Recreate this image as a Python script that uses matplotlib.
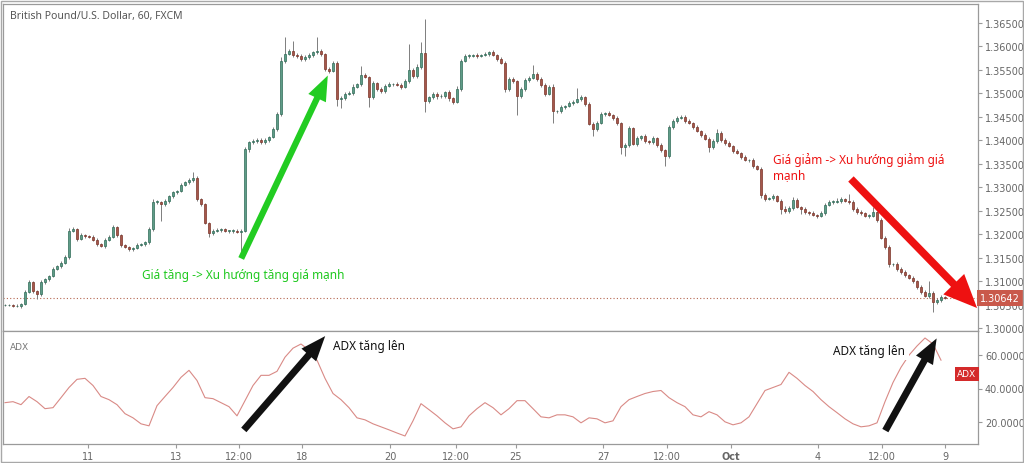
import numpy as np
import matplotlib.pyplot as plt
from matplotlib.patches import FancyArrowPatch, Rectangle

# hourly GBP/USD closes (sampled), wick extensions in pips
close = [1.3049, 1.3049, 1.3047, 1.3047, 1.3051, 1.3077, 1.3098, 1.3079, 1.3072, 1.3098,
         1.3104, 1.3111, 1.3126, 1.3132, 1.3139, 1.3151, 1.3207, 1.3211, 1.3190, 1.3198,
         1.3196, 1.3194, 1.3188, 1.3179, 1.3175, 1.3188, 1.3194, 1.3215, 1.3198, 1.3177,
         1.3173, 1.3168, 1.3170, 1.3177, 1.3179, 1.3183, 1.3211, 1.3269, 1.3269, 1.3264,
         1.3271, 1.3281, 1.3290, 1.3292, 1.3305, 1.3311, 1.3315, 1.3320, 1.3275, 1.3264,
         1.3224, 1.3202, 1.3207, 1.3209, 1.3211, 1.3207, 1.3207, 1.3207, 1.3205, 1.3207,
         1.3381, 1.3396, 1.3398, 1.3401, 1.3396, 1.3401, 1.3407, 1.3424, 1.3456, 1.3569,
         1.3584, 1.3590, 1.3582, 1.3580, 1.3573, 1.3577, 1.3582, 1.3588, 1.3590, 1.3584,
         1.3552, 1.3548, 1.3565, 1.3488, 1.3490, 1.3499, 1.3501, 1.3514, 1.3520, 1.3539,
         1.3535, 1.3492, 1.3522, 1.3509, 1.3505, 1.3516, 1.3520, 1.3520, 1.3518, 1.3514,
         1.3526, 1.3550, 1.3537, 1.3556, 1.3586, 1.3484, 1.3492, 1.3499, 1.3494, 1.3494,
         1.3503, 1.3490, 1.3482, 1.3509, 1.3569, 1.3580, 1.3580, 1.3582, 1.3580, 1.3582,
         1.3584, 1.3588, 1.3582, 1.3573, 1.3565, 1.3509, 1.3531, 1.3526, 1.3494, 1.3509,
         1.3528, 1.3533, 1.3541, 1.3531, 1.3518, 1.3499, 1.3514, 1.3462, 1.3462, 1.3471,
         1.3473, 1.3479, 1.3482, 1.3488, 1.3492, 1.3477, 1.3435, 1.3424, 1.3437, 1.3456,
         1.3458, 1.3454, 1.3448, 1.3437, 1.3386, 1.3390, 1.3426, 1.3392, 1.3405, 1.3409,
         1.3398, 1.3396, 1.3405, 1.3390, 1.3379, 1.3367, 1.3428, 1.3441, 1.3448, 1.3450,
         1.3441, 1.3437, 1.3428, 1.3420, 1.3411, 1.3403, 1.3386, 1.3398, 1.3416, 1.3401,
         1.3394, 1.3388, 1.3377, 1.3373, 1.3364, 1.3358, 1.3358, 1.3345, 1.3339, 1.3283,
         1.3275, 1.3277, 1.3281, 1.3271, 1.3254, 1.3249, 1.3256, 1.3273, 1.3258, 1.3254,
         1.3247, 1.3245, 1.3241, 1.3239, 1.3245, 1.3262, 1.3269, 1.3269, 1.3271, 1.3275,
         1.3271, 1.3269, 1.3254, 1.3247, 1.3245, 1.3239, 1.3239, 1.3247, 1.3230, 1.3192,
         1.3173, 1.3136, 1.3136, 1.3126, 1.3119, 1.3113, 1.3107, 1.3100, 1.3087, 1.3077,
         1.3068, 1.3075, 1.3055, 1.3060, 1.3066, 1.30642]

wick_up = [2, 3, 2, 4, 3, 5, 4, 3, 2, 4, 3, 3, 4, 2, 3, 4, 6, 5, 3, 4,
           3, 2, 4, 3, 2, 3, 4, 5, 3, 2, 3, 2, 3, 4, 2, 3, 4, 5, 3, 2,
           4, 3, 3, 2, 4, 3, 4, 12, 3, 2, 3, 2, 3, 4, 2, 3, 2, 3, 4, 3,
           4, 3, 5, 4, 3, 4, 3, 5, 4, 8, 36, 5, 22, 4, 3, 4, 5, 3, 30, 4,
           3, 4, 5, 3, 4, 3, 4, 5, 3, 19, 4, 3, 5, 3, 4, 3, 4, 3, 4, 5,
           4, 55, 4, 6, 24, 73, 3, 4, 3, 5, 3, 4, 3, 6, 4, 3, 4, 3, 4, 3,
           4, 3, 4, 3, 4, 5, 3, 4, 3, 4, 5, 3, 20, 4, 3, 4, 3, 5, 3, 4,
           3, 4, 3, 24, 4, 3, 4, 3, 5, 4, 3, 4, 3, 4, 3, 5, 4, 3, 4, 3,
           4, 3, 5, 3, 4, 3, 5, 4, 3, 4, 3, 4, 3, 4, 3, 4, 3, 4, 8, 4,
           3, 4, 3, 4, 3, 4, 3, 4, 3, 5, 4, 3, 4, 3, 4, 5, 3, 6, 4, 3,
           4, 3, 4, 3, 4, 5, 4, 3, 6, 4, 3, 15, 4, 3, 4, 3, 4, 10, 3, 4,
           3, 4, 3, 4, 3, 4, 3, 4, 3, 4, 3, 25, 4, 3, 5, 3]

wick_dn = [3, 2, 3, 2, 4, 3, 3, 4, 10, 3, 4, 3, 2, 3, 4, 3, 4, 3, 5, 3,
           4, 3, 2, 4, 3, 4, 3, 3, 4, 5, 3, 4, 3, 2, 3, 4, 3, 4, 5, 36,
           3, 4, 3, 4, 3, 3, 4, 3, 5, 4, 3, 8, 4, 3, 4, 3, 5, 4, 3, 43,
           3, 5, 4, 3, 4, 3, 4, 3, 4, 5, 4, 3, 4, 5, 3, 4, 3, 4, 3, 4,
           5, 4, 3, 15, 20, 4, 3, 4, 3, 4, 3, 20, 4, 3, 5, 4, 3, 4, 3, 4,
           3, 4, 5, 4, 3, 24, 4, 3, 5, 4, 3, 6, 4, 3, 4, 3, 4, 3, 4, 3,
           3, 4, 3, 4, 3, 6, 4, 3, 40, 4, 3, 4, 3, 4, 5, 4, 3, 25, 4, 3,
           4, 3, 4, 3, 5, 4, 3, 15, 4, 3, 4, 3, 4, 5, 15, 19, 4, 3, 4, 5,
           3, 4, 3, 4, 3, 22, 4, 3, 4, 3, 4, 3, 4, 3, 4, 3, 10, 4, 3, 4,
           4, 3, 4, 3, 4, 3, 5, 4, 3, 6, 4, 3, 4, 3, 10, 4, 3, 4, 3, 12,
           3, 4, 3, 4, 3, 4, 3, 4, 3, 4, 3, 4, 5, 3, 4, 3, 4, 3, 4, 3,
           4, 5, 3, 4, 3, 4, 3, 4, 3, 4, 3, 4, 21, 3, 4, 3]

# ADX, one value every second candle
adx = [31.5, 32.1, 30.3, 35.2, 32.1, 27.9, 28.5, 34.5, 40.6, 45.5,
       46.1, 41.8, 35.2, 33.3, 30.3, 24.9, 22.4, 18.8, 17.6, 29.7,
       35.2, 40.6, 46.7, 50.9, 44.8, 34.5, 33.9, 31.5, 29.1, 23.6,
       32.7, 41.8, 47.9, 47.9, 50.3, 58.8, 64.2, 66.7, 63.0, 57.0,
       46.1, 37.0, 33.3, 28.5, 22.4, 21.2, 18.8, 17.0, 15.2, 13.3,
       11.5, 20.6, 30.9, 27.3, 23.6, 19.4, 15.8, 17.0, 23.6, 27.9,
       31.5, 28.5, 24.2, 27.9, 32.7, 32.7, 27.9, 23.0, 22.4, 24.2,
       24.2, 23.0, 19.4, 22.4, 21.8, 19.4, 20.6, 29.1, 33.3, 35.2,
       37.0, 38.2, 38.8, 34.5, 31.5, 29.1, 24.2, 23.0, 26.1, 24.2,
       20.0, 18.2, 19.4, 23.0, 30.9, 38.8, 40.6, 42.4, 49.7, 46.1,
       41.8, 38.2, 33.3, 29.1, 25.5, 21.8, 18.8, 17.0, 17.6, 19.4,
       32.1, 43.6, 52.7, 60.0, 65.5, 70.3, 66.7, 57.0]

tick_pos = [20.75, 42.75, 58.5, 74.25, 96.25, 112.75, 127.75, 149.5, 165.5, 181.5, 203.25, 219.25, 235]
tick_lab = ['11', '13', '12:00', '18', '20', '12:00', '25', '27', '12:00', 'Oct', '4', '12:00', '9']
price_ticks = np.arange(1.300, 1.36501, 0.005)
adx_ticks = [20, 40, 60]
last_price = 1.30642

close = np.array(close)
opn = np.concatenate([[close[0]], close[:-1]])
high = np.maximum(opn, close) + np.array(wick_up) * 1e-4
low = np.minimum(opn, close) - np.array(wick_dn) * 1e-4
x = np.arange(len(close))

W, H = 1024, 464
fig = plt.figure(figsize=(W / 100, H / 100), dpi=100)
fig.patch.set_facecolor('white')

def fr(x0, y0, x1, y1):
    return [x0 / W, 1 - y1 / H, (x1 - x0) / W, (y1 - y0) / H]

ax = fig.add_axes(fr(3, 5, 978, 332))
ax2 = fig.add_axes(fr(3, 332, 978, 445))
gray = '#9a9a9a'
for a in (ax, ax2):
    for s in a.spines.values():
        s.set_color(gray)
        s.set_linewidth(0.9)
    a.yaxis.tick_right()
    a.tick_params(axis='y', colors=gray, labelcolor='#666666', labelsize=7, length=3, pad=2)
    a.set_xlim(-0.5, 243.25)

up_c, up_e = '#5f9c88', '#2f6b57'
dn_c, dn_e = '#a5574b', '#7a3328'
up = close >= opn
ax.vlines(x, low, high, color='#7d7d7d', lw=0.7, zorder=1)
body = np.maximum(np.abs(close - opn), 0.00008)
ax.bar(x[up], body[up], bottom=np.minimum(opn, close)[up], width=0.55,
       color=up_c, edgecolor=up_e, lw=0.5, zorder=2)
ax.bar(x[~up], body[~up], bottom=np.minimum(opn, close)[~up], width=0.55,
       color=dn_c, edgecolor=dn_e, lw=0.5, zorder=2)
ax.axhline(last_price, color='#b5654f', lw=0.8, ls=(0, (1, 2)), zorder=0)
ax.set_ylim(1.29936, 1.36905)
ax.set_yticks(price_ticks)
ax.set_yticklabels(['%.5f' % t for t in price_ticks])
ax.set_xticks([])
ax.text(1.002, (last_price - 1.29936) / (1.36905 - 1.29936), '%.5f' % last_price,
        transform=ax.transAxes, ha='left', va='center', color='white', fontsize=7,
        bbox=dict(boxstyle='square,pad=0.3', fc='#c9594b', ec='none'), zorder=10,
        clip_on=False)
ax.text(0.007, 0.965, 'British Pound/U.S. Dollar, 60, FXCM', transform=ax.transAxes,
        ha='left', va='center', fontsize=7.5, color='#555555', family='Noto Sans',
        fontweight='bold')

ax2.plot(np.arange(len(adx)) * 2, adx, color='#d98a86', lw=0.8)
ax2.set_ylim(6.7, 74.5)
ax2.set_yticks(adx_ticks)
ax2.set_yticklabels(['%.4f' % t for t in adx_ticks])
ax2.set_xticks(tick_pos)
ax2.set_xticklabels(tick_lab)
ax2.tick_params(axis='x', colors=gray, labelcolor='#666666', labelsize=7, length=3, pad=2)
for lab in ax2.get_xticklabels():
    if lab.get_text() == 'Oct':
        lab.set_fontweight('bold')
ax2.text(0.007, 0.86, 'ADX', transform=ax2.transAxes, ha='left', va='center',
         fontsize=6.5, color='#777777')
ax2.text(0.9985, 0.62, 'ADX', transform=ax2.transAxes, ha='right', va='center',
         fontsize=6.5, color='white',
         bbox=dict(boxstyle='square,pad=0.3', fc='#d42a2a', ec='none'))

# annotations in image pixels
def arrow(p0, p1, color, tail, hw, hl):
    a = FancyArrowPatch((p0[0] / W, 1 - p0[1] / H), (p1[0] / W, 1 - p1[1] / H),
                        transform=fig.transFigure,
                        arrowstyle='simple,head_width=%g,head_length=%g,tail_width=%g' % (hw, hl, tail),
                        mutation_scale=10, color=color, lw=0, zorder=20)
    fig.add_artist(a)

arrow((240, 262), (329, 74), '#22cc22', 0.45, 1.4, 1.8)
arrow((849, 178), (979, 311), '#ee1111', 0.55, 2.1, 2.4)
arrow((242, 433), (327, 335), '#111111', 0.5, 1.4, 1.8)
arrow((884, 434), (938, 337), '#111111', 0.5, 1.4, 1.8)

fnt = 'Noto Sans'
fig.text(142 / W, 1 - 276 / H, 'Giá tăng -> Xu hướng tăng giá mạnh', color='#1ec81e',
         fontsize=8.5, family=fnt, ha='left', va='center')
fig.text(773 / W, 1 - 160 / H, 'Giá giảm -> Xu hướng giảm giá', color='#ee1111',
         fontsize=8.5, family=fnt, ha='left', va='center')
fig.text(773 / W, 1 - 176 / H, 'mạnh', color='#ee1111',
         fontsize=8.5, family=fnt, ha='left', va='center')
fig.text(333 / W, 1 - 347 / H, 'ADX tăng lên', color='#111111',
         fontsize=8.5, family=fnt, ha='left', va='center')
fig.text(833 / W, 1 - 351 / H, 'ADX tăng lên', color='#111111',
         fontsize=8.5, family=fnt, ha='left', va='center',
         bbox=dict(boxstyle='square,pad=0.3', fc='white', ec='none'))

fig.add_artist(Rectangle((0.5 / W, 1.5 / H), (W - 2) / W, (H - 3) / H, transform=fig.transFigure,
                         fill=False, ec='#a8a8a8', lw=1))

fig.savefig('out.png', dpi=100, facecolor='white')
